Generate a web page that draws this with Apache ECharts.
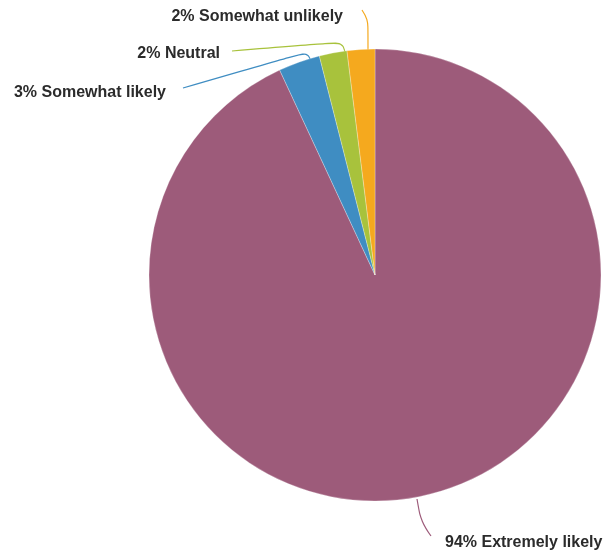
<!DOCTYPE html>
<html>
<head>
<meta charset="utf-8">
<script src="https://cdn.jsdelivr.net/npm/echarts@6/dist/echarts.min.js"></script>
<style>
  html, body { margin: 0; padding: 0; background: #ffffff; }
  #chart { width: 609px; height: 556px; }
</style>
</head>
<body>
<div id="chart"></div>
<script>
// Survey responses, clockwise from 12 o'clock
const categories = ['Extremely likely', 'Somewhat likely', 'Neutral', 'Somewhat unlikely'];
const percents = [94, 3, 2, 2];
const sliceColors = ['#9d5b7a', '#3f8dc2', '#a8c23c', '#f5a91e'];

// Where each callout sits and how its leader line bends
const calloutPlacement = [
  { x: 445, y: 543, align: 'left',  line: [[417, 499], [421, 522], [431, 536]] },
  { x: 166, y: 93,  align: 'right', line: [[311, 61], [307, 52], [183, 88]] },
  { x: 220, y: 54,  align: 'right', line: [[345, 52], [342, 42], [232, 51]] },
  { x: 343, y: 17,  align: 'right', line: [[368, 52], [368, 19], [362, 10]] }
];

const chart = echarts.init(document.getElementById('chart'), null, { renderer: 'canvas' });

chart.setOption({
  animation: false,
  backgroundColor: '#ffffff',
  series: [{
    type: 'pie',
    center: [375, 275],
    radius: 226,
    startAngle: 90,
    clockwise: true,
    avoidLabelOverlap: false,
    data: categories.map((name, i) => ({
      name: name,
      value: percents[i],
      itemStyle: { color: sliceColors[i] },
      labelLine: { lineStyle: { color: sliceColors[i] } }
    })),
    itemStyle: { borderColor: 'rgba(255,255,255,0.45)', borderWidth: 0.6 },
    label: {
      show: true,
      formatter: '{c}% {b}',
      fontFamily: 'Arial',
      fontWeight: 'bold',
      fontSize: 16,
      color: '#2b2b2b'
    },
    labelLine: { show: true, smooth: 0.4, lineStyle: { width: 1.2 } },
    labelLayout: function (params) {
      const p = calloutPlacement[params.dataIndex];
      return {
        x: p.x,
        y: p.y,
        align: p.align,
        verticalAlign: 'middle',
        labelLinePoints: p.line
      };
    },
    emphasis: { disabled: true }
  }]
});
</script>
</body>
</html>
